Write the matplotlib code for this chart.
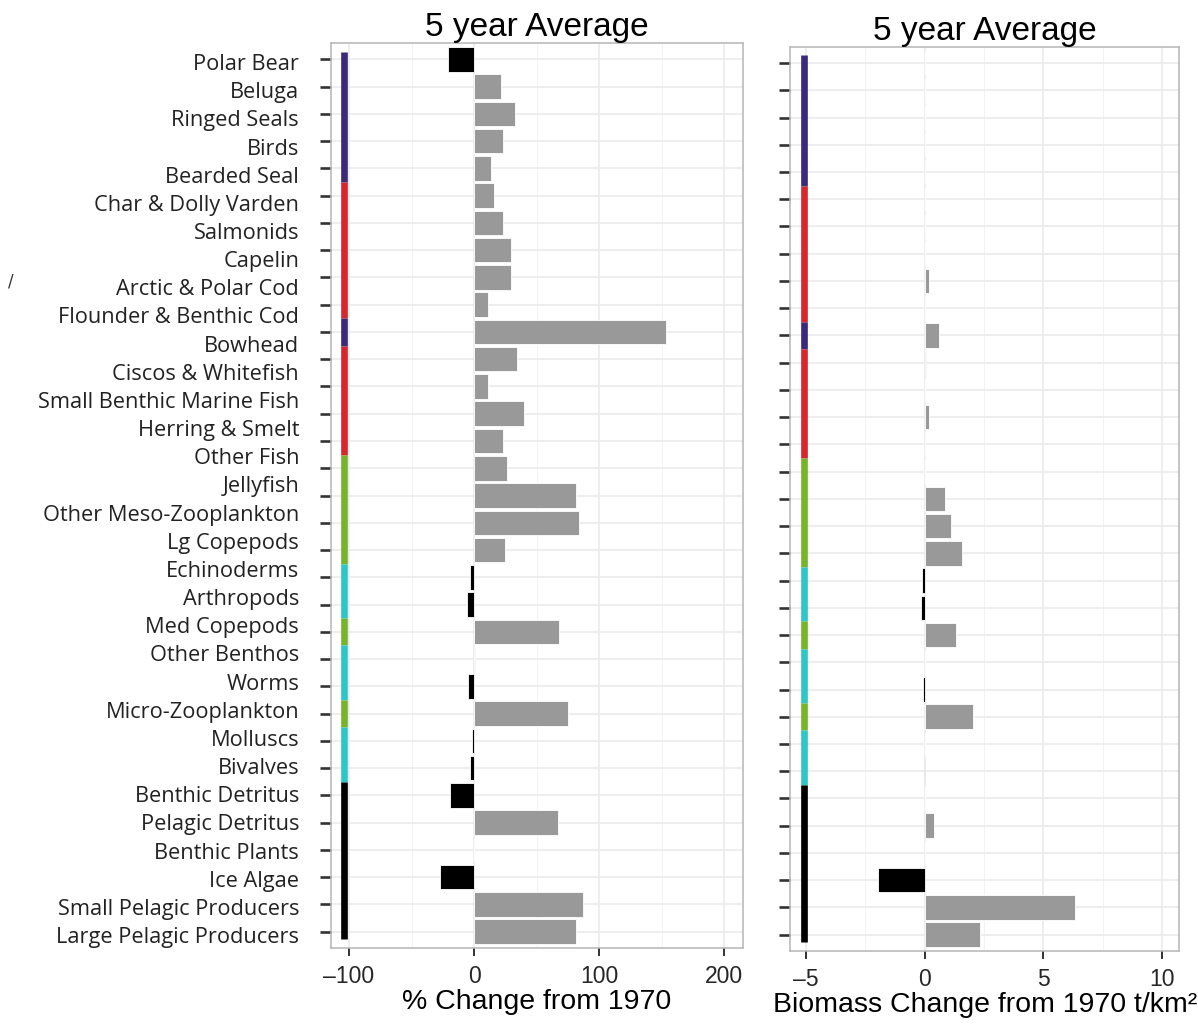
import matplotlib
import numpy as np

matplotlib.use("Agg")
import matplotlib.pyplot as plt
from matplotlib.ticker import FixedLocator

# names pasted down the left side (32 of them)
labels = [
    "Polar Bear", "Beluga", "Ringed Seals", "Birds", "Bearded Seal",
    "Char & Dolly Varden", "Salmonids", "Capelin", "Arctic & Polar Cod",
    "Flounder & Benthic Cod", "Bowhead", "Ciscos & Whitefish",
    "Small Benthic Marine Fish", "Herring & Smelt", "Other Fish", "Jellyfish",
    "Other Meso-Zooplankton", "Lg Copepods", "Echinoderms", "Arthropods",
    "Med Copepods", "Other Benthos", "Worms", "Micro-Zooplankton", "Molluscs",
    "Bivalves", "Benthic Detritus", "Pelagic Detritus", "Benthic Plants",
    "Ice Algae", "Small Pelagic Producers", "Large Pelagic Producers",
]

# the plotted rows (33 ticks on the axes)
pct_change = [
    -20.5, 21.3, 32.8, 23.5, 13.3, 16.3, 22.9, 29.6, 29.3, 10.9, 153.3,
    34.7, 11.5, 40.3, 23.2, 26.4, 81.6, 83.7, 24.6, -3.5, -5.3, 68.3, 1.0,
    -4.5, 75.5, -2.0, -3.0, -19.2, 67.5, 0.0, -27.2, 87.5, 81.6,
]
biomass_change = [
    0.0, 0.0, 0.0, 0.0, 0.0, 0.0, 0.0, 0.0, 0.18, 0.0, 0.6,
    0.07, 0.0, 0.17, 0.03, 0.03, 0.84, 1.12, 1.58, -0.1, -0.15, 1.32, 0.0,
    -0.05, 2.02, 0.02, -0.02, 0.0, 0.41, 0.0, -1.95, 6.33, 2.34,
]
groups = (
    ["mammals"] * 5 + ["fish"] * 5 + ["mammals"] + ["fish"] * 4
    + ["plankton"] * 4 + ["benthos"] * 2 + ["plankton"] + ["benthos"] * 2
    + ["plankton"] + ["benthos"] * 2 + ["base"] * 6
)

group_colours = {
    "mammals": "#3b2a7a",
    "fish": "#d7262c",
    "plankton": "#77b42e",
    "benthos": "#2fc6c8",
    "base": "#000000",
}

TICK_FONT = ["Liberation Sans", "DejaVu Sans"]


def group_runs(seq):
    runs = []
    start = 0
    for i in range(1, len(seq) + 1):
        if i == len(seq) or seq[i] != seq[start]:
            runs.append((seq[start], start, i - 1))
            start = i
    return runs


def draw_panel(ax, values, strip_x, xlim, xticks, minor, xlabel):
    n = len(values)
    y = np.arange(n)
    ax.set_xlim(*xlim)
    ax.set_ylim(n - 1 + 0.6, -0.6)

    ax.xaxis.set_major_locator(FixedLocator(xticks))
    ax.xaxis.set_minor_locator(FixedLocator(minor))
    ax.set_yticks(y)
    ax.set_yticklabels([])
    ax.grid(which="major", color="#ebebeb", lw=1.2)
    ax.grid(which="minor", axis="x", color="#f3f3f3", lw=0.7)
    ax.set_axisbelow(True)

    colours = ["#000000" if v < 0 else "#999999" for v in values]
    ax.barh(y, values, height=0.9, color=colours, edgecolor="white", lw=0.6, zorder=2)

    for grp, s, e in group_runs(groups):
        lo = max(s - 0.5, -0.28)
        hi = min(e + 0.5, n - 1 + 0.27)
        ax.vlines(strip_x, lo, hi, colors=group_colours[grp], lw=4.8,
                  capstyle="butt", zorder=3)

    for sp in ax.spines.values():
        sp.set_color("#b5b5b5")
        sp.set_linewidth(1.1)

    ax.tick_params(axis="y", which="major", length=8, width=1.9, color="#333333")
    ax.tick_params(axis="x", which="major", length=6, width=1.4, color="#333333",
                   labelsize=16.5, labelcolor="#262626", pad=6)
    ax.tick_params(axis="x", which="minor", length=0)
    for t in ax.get_xticklabels():
        t.set_family(TICK_FONT)

    ax.set_xlabel(xlabel, fontsize=20.5, family=TICK_FONT, labelpad=1)
    ax.set_title("5 year Average", fontsize=24, family=TICK_FONT, pad=0)


fig = plt.figure(figsize=(11.98, 10.24), dpi=100)

ax1 = fig.add_axes([0.2763, 0.0742, 0.3439, 0.8838])
ax2 = fig.add_axes([0.6594, 0.0713, 0.3250, 0.8831])

draw_panel(ax1, pct_change, -104, (-114.4, 215.2), [-100, 0, 100, 200],
           [-50, 50, 150], "% Change from 1970")
draw_panel(ax2, biomass_change, -5.1, (-5.67, 10.72), [-5, 0, 5, 10],
           [-2.5, 2.5, 7.5], "Biomass Change from 1970 t/km\u00b2")
ax1.set_xticklabels(["\u2013100", "0", "100", "200"])
ax2.set_xticklabels(["\u20135", "0", "5", "10"])

# label column sits on its own spacing, a little wider than the rows
lab = fig.add_axes([0.2763, 0.0742, 0.3439, 0.8838])
lab.patch.set_visible(False)
for sp in lab.spines.values():
    sp.set_visible(False)
lab.set_xticks([])
lab.set_ylim(31.46, -0.675)
lab.set_yticks(np.arange(len(labels)))
lab.set_yticklabels(labels, family=["Open Sans", "DejaVu Sans"], fontsize=15.7,
                    color="#222222")
lab.tick_params(axis="y", length=0, pad=23)
lab.set_zorder(-1)

fig.text(0.009, 1 - 282 / 1024, "/", fontsize=12, color="#333333",
         ha="center", va="center")

fig.savefig("out.png", dpi=100)
plt.close(fig)
